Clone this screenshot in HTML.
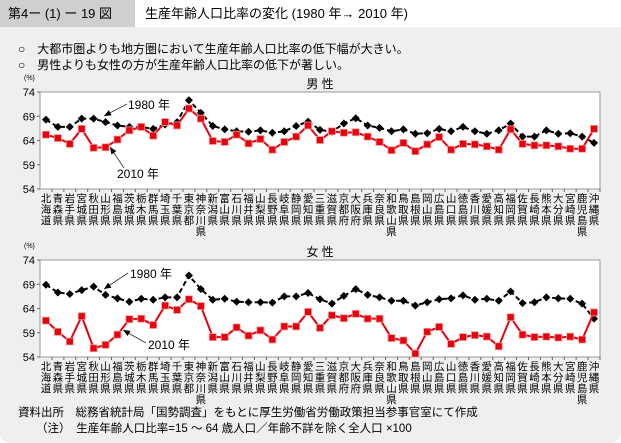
<!DOCTYPE html>
<html><head><meta charset="utf-8"><style>
body{margin:0;width:621px;height:443px;overflow:hidden;background:#fff;font-family:"Liberation Sans","Noto Sans CJK JP",sans-serif;}
#panel{position:absolute;left:0;top:0;width:621px;height:443px;background:#efefef;border-radius:0 0 10px 10px;}
#hdr{position:absolute;left:0;top:0;width:621px;height:27px;background:#fff;}
#fig{position:absolute;left:0;top:0;width:135px;height:27px;background:#cfcfcf;font-size:13px;line-height:27px;padding-left:8px;box-sizing:border-box;white-space:nowrap;}
#ttl{position:absolute;left:145px;top:0;font-size:13px;line-height:27px;white-space:nowrap;}
.pt{position:absolute;left:18px;font-size:12px;white-space:nowrap;}
</style></head><body>
<div id="panel">
<div id="hdr">
<div id="fig">第4ー (1) ー 19 図</div>
<div id="ttl">生産年齢人口比率の変化 (1980 年→ 2010 年)</div>
</div>
<div class="pt" style="top:40px">○　大都市圏よりも地方圏において生産年齢人口比率の低下幅が大きい。</div>
<div class="pt" style="top:56px">○　男性よりも女性の方が生産年齢人口比率の低下が著しい。</div>
<svg id="svg" width="621" height="443" style="position:absolute;left:0;top:0"></svg>
<div style="position:absolute;left:18px;top:404px;font-size:11.5px;white-space:nowrap">資料出所　総務省統計局「国勢調査」をもとに厚生労働省労働政策担当参事官室にて作成</div>
<div style="position:absolute;left:36px;top:420px;font-size:11.5px;white-space:nowrap">（注）　生産年齢人口比率=15 ～ 64 歳人口／年齢不詳を除く全人口 ×100</div>
</div>
<script>
const prefs=["北海道","青森県","岩手県","宮城県","秋田県","山形県","福島県","茨城県","栃木県","群馬県","埼玉県","千葉県","東京都","神奈川県","新潟県","富山県","石川県","福井県","山梨県","長野県","岐阜県","静岡県","愛知県","三重県","滋賀県","京都府","大阪府","兵庫県","奈良県","和歌山県","鳥取県","島根県","岡山県","広島県","山口県","徳島県","香川県","愛媛県","高知県","福岡県","佐賀県","長崎県","熊本県","大分県","宮崎県","鹿児島県","沖縄県"];
const yTicks=[74,69,64,59,54];
const male1980=[68.3,66.8,66.8,68.5,68.5,67.8,67.1,66.8,66.8,66.4,67.3,67.8,72.3,69.7,67.0,66.3,65.9,65.8,66.1,65.6,65.9,67.0,67.9,66.2,65.8,67.5,68.6,67.1,66.6,65.9,66.3,65.4,65.5,66.4,65.9,66.8,65.9,65.4,66.1,67.5,64.8,64.8,66.1,65.4,65.5,64.8,63.5];
const male2010=[65.2,64.5,63.3,66.4,62.5,62.6,64.2,66.1,66.8,65.0,67.8,67.1,70.6,68.5,63.9,63.7,65.2,63.4,64.3,62.1,63.7,64.8,67.1,64.1,65.9,65.6,65.7,64.8,63.7,62.0,63.5,61.8,63.2,64.7,62.1,63.3,63.2,62.8,62.1,66.3,63.3,63.0,63.0,62.8,62.3,62.3,66.4];
const female1980=[68.9,67.3,67.0,67.8,68.5,66.8,66.1,65.4,66.0,65.8,66.3,66.3,70.8,68.0,65.8,66.0,65.4,65.3,65.3,65.2,66.5,66.5,67.2,65.9,65.0,66.6,68.0,66.8,66.3,65.6,65.6,64.6,65.3,65.9,66.1,66.7,65.8,66.0,65.6,67.5,65.1,65.3,66.3,66.1,66.0,65.0,61.9];
const female2010=[61.5,59.2,57.2,62.4,55.8,56.5,58.6,61.8,61.9,60.6,64.6,63.7,65.9,64.5,58.1,58.1,60.1,58.4,59.5,57.6,60.3,60.3,63.3,60.0,62.6,62.0,62.9,61.9,61.9,57.9,57.4,54.7,59.2,60.2,56.7,58.1,58.5,58.2,56.2,62.2,58.6,58.1,58.2,58.0,58.2,57.6,63.2];
const svg=document.getElementById('svg');const NS='http://www.w3.org/2000/svg';
function mk(t,a,p){const e=document.createElementNS(NS,t);for(const k in a)e.setAttribute(k,a[k]);(p||svg).appendChild(e);return e;}
function chart(top,bot,title,s80,s10,ann,key){
 const L=40,R=600;const n=prefs.length;const w=(R-L)/n;
 const x=i=>L+(i+0.5)*w;const y=v=>top+(74-v)/20*(bot-top);
 const g=mk('g',{});
 
 
 const bg=mk('rect',{x:L,y:top,width:R-L,height:bot-top,fill:'#fff',stroke:'#999','stroke-width':1},g);
 
 
 const tt=mk('text',{x:320,y:top-4,'font-size':12,'text-anchor':'middle'},g);tt.textContent=title;
 
 
 const u=mk('text',{x:24,y:top-12,'font-size':7},g);u.textContent='(%)';
 
 
 yTicks.forEach(v=>{const t=mk('text',{x:35,y:y(v)+4,'font-size':11,'text-anchor':'end'},g);t.textContent=v;
  
  
  mk('line',{x1:L-3,x2:L,y1:y(v),y2:y(v),stroke:'#666'},g);});
 prefs.forEach((p,i)=>{mk('line',{x1:L+(i+1)*w,x2:L+(i+1)*w,y1:bot,y2:bot+3,stroke:'#666'},g);
  const t=mk('text',{x:x(i),y:bot+13,'font-size':10.5,'text-anchor':'middle'},g);
  
  
  [...p].forEach((c,k)=>{const s=mk('tspan',{x:x(i),dy:k?11:0},t);s.textContent=c;});});
 const l80=mk('polyline',{points:s80.map((v,i)=>x(i)+','+y(v)).join(' '),fill:'none',stroke:'#000','stroke-width':2,'stroke-dasharray':'5,3'},g);
 
 
 s80.forEach((v,i)=>{const d=mk('polygon',{points:`${x(i)},${y(v)-4} ${x(i)+4},${y(v)} ${x(i)},${y(v)+4} ${x(i)-4},${y(v)}`,fill:'#000'},g);
  
  });
 const l10=mk('polyline',{points:s10.map((v,i)=>x(i)+','+y(v)).join(' '),fill:'none',stroke:'#e60012','stroke-width':2},g);
 
 
 s10.forEach((v,i)=>{const r=mk('rect',{x:x(i)-3.5,y:y(v)-3.5,width:7,height:7,fill:'#e60012',stroke:'#f4a090','stroke-width':0.8},g);
  
  });
 ann.forEach(a=>{mk('line',{x1:a[2],y1:a[3],x2:a[4],y2:a[5],stroke:'#333','stroke-width':0.8},g);
  const dx=a[4]-a[2],dy=a[5]-a[3],l=Math.hypot(dx,dy),ux=dx/l,uy=dy/l;
  mk('polygon',{points:`${a[4]},${a[5]} ${a[4]-7*ux-3*uy},${a[5]-7*uy+3*ux} ${a[4]-7*ux+3*uy},${a[5]-7*uy-3*ux}`,fill:'#000'},g);
  const t=mk('text',{x:a[0],y:a[1],'font-size':12},g);t.textContent=a[6];
  
  });
}
chart(92,189,'男 性',male1980,male2010,[[128,109,127,104,104,116,'1980 年'],[117,178,124,168,110,147,'2010 年']],'male');
chart(260,357,'女 性',female1980,female2010,[[130,278,128,273,104,289,'1980 年'],[148,349,146,343,123,330,'2010 年']],'female');
</script>
</body></html>
